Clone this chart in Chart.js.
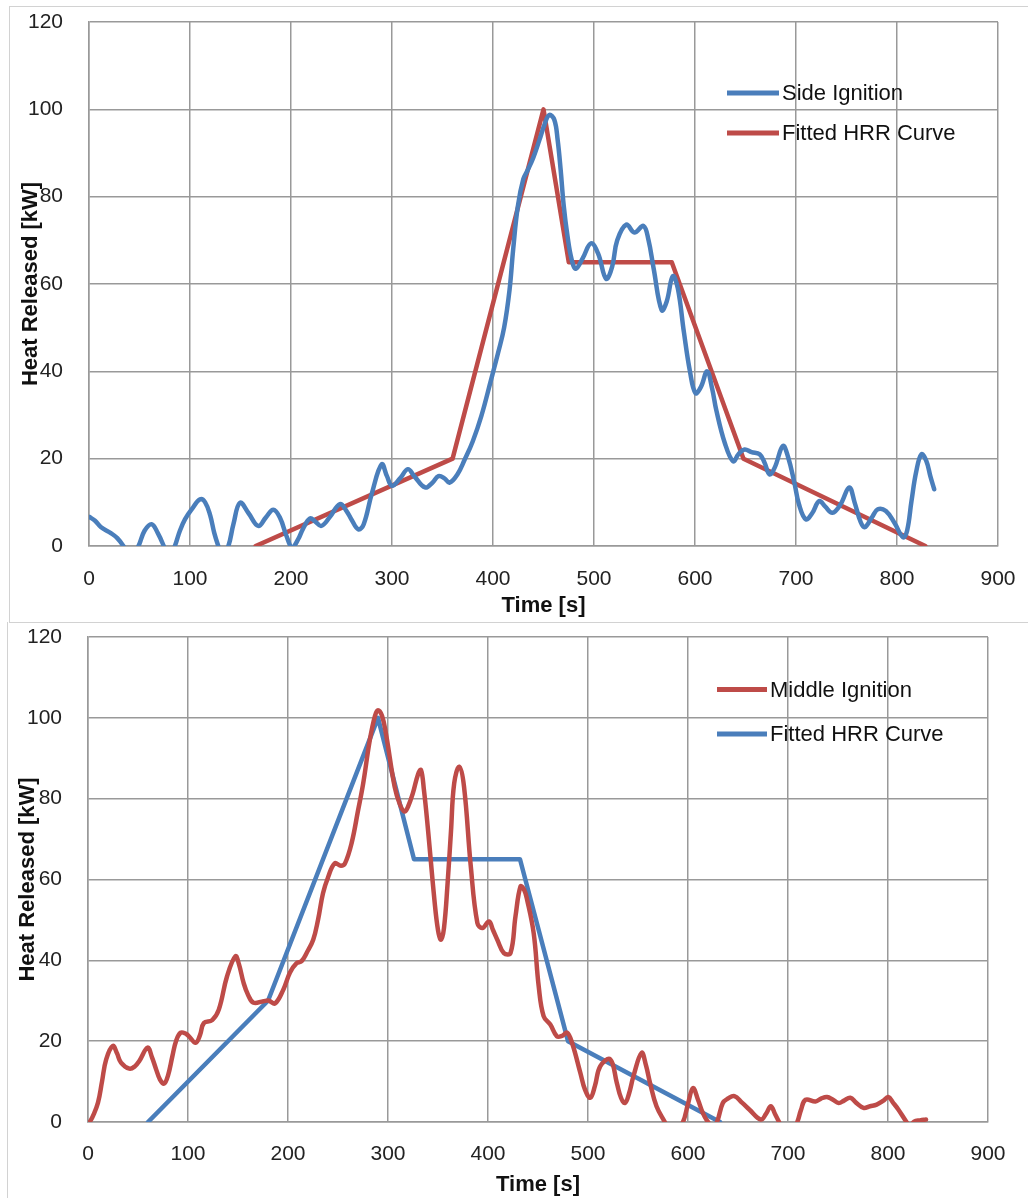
<!DOCTYPE html>
<html>
<head>
<meta charset="utf-8">
<script src="https://cdn.jsdelivr.net/npm/chart.js@4.4.1/dist/chart.umd.min.js"></script>
<style>
  body { margin: 0; background: #fff; width: 1028px; height: 1198px; position: relative; overflow: hidden; }
  canvas { position: absolute; left: 0; }
  .marco { position: absolute; border-color: #d2d2d2; border-style: solid; border-width: 0; }
</style>
</head>
<body>
<!-- marcos grises de las dos figuras -->
<div class="marco" style="left:9px; top:6px; width:1019px; height:615px; border-left-width:1px; border-top-width:1px; border-bottom-width:1px;"></div>
<div class="marco" style="left:7px; top:622px; width:1021px; height:576px; border-left-width:1px;"></div>

<canvas id="graficoLateral" width="1028" height="620" style="top:0px"></canvas>
<canvas id="graficoCentral" width="1028" height="576" style="top:622px"></canvas>

<script>
// Ejes comunes
const ticksTiempo = [0, 100, 200, 300, 400, 500, 600, 700, 800, 900];
const ticksCalor = [0, 20, 40, 60, 80, 100, 120];

// Ignicion lateral (curva medida), tiempo en s y calor en kW
const tiempoLateral = [0, 6, 12, 22, 28, 34, 41, 49, 55, 62, 68, 74, 79, 85, 90, 95, 102, 110, 115, 120,
  124, 128, 132, 138, 143, 149.5, 158, 167.6, 175, 182.5, 189, 196, 201, 207, 212, 218.8, 224, 230, 238, 248.5,
  255, 260, 266.7, 272, 280, 289.8, 295, 300, 308, 315.7, 322, 332.8, 340, 346, 352, 357, 365, 372, 380, 388.5,
  398, 405, 411, 416.4, 420, 424.6, 430, 434.4, 440, 446, 451, 455.7, 460.7, 464, 467, 470, 473.8, 478, 482, 489,
  497, 504, 512, 518, 523, 532, 540, 549, 554, 559, 567, 572, 578, 583, 589, 595, 600.5, 606, 612, 617,
  621, 629.5, 637.7, 643, 649, 656, 664, 669, 673.8, 679, 687, 692, 698.4, 703, 709.8, 716, 723, 729, 736, 744,
  752.7, 758, 764, 768, 775, 781, 789, 797.7, 806, 810, 814.3, 819, 824.2, 829, 833, 836.8];
const calorLateral = [6.7, 5.8, 4.3, 2.9, 1.8, 0, -3, 0, 3.5, 5.0, 3, 0, -3, 0, 3.5, 6.1, 8.5, 10.7, 10, 7,
  3, 0, -2.5, 0, 5, 9.9, 7.5, 4.6, 6.5, 8.3, 6.5, 2, -0.3, 1.5, 4, 6.3, 5.6, 4.6, 6.5, 9.6,
  8, 6, 3.8, 5, 12, 18.7, 16, 13.8, 15.5, 17.6, 16, 13.4, 14.5, 16, 15.5, 14.5, 16.5, 19.8, 24, 29.8,
  38, 44.2, 50, 58.7, 68, 77.8, 84, 86.1, 89, 93, 96.5, 98.7, 97.6, 93, 86.1, 78, 70.9, 65.5, 63.5, 66,
  69.3, 67, 61.2, 64, 70, 73.6, 71.8, 73.3, 70, 63.6, 54, 56, 61.8, 59, 49, 40, 35, 36.5, 40, 36,
  31.2, 23.6, 19.4, 21, 22.1, 21.5, 21, 19, 16.4, 18, 22.9, 20.5, 14.5, 9.5, 6.1, 7.5, 10.3, 9, 7.6, 9.5,
  13.4, 10, 5.5, 4.3, 6.5, 8.4, 8, 5.2, 2, 3.5, 10.2, 17, 21, 19.5, 16, 13];

// Curva HRR ajustada (ignicion lateral)
const tiempoAjusteLateral = [165, 360, 450, 475, 577, 648, 828];
const calorAjusteLateral = [0, 20, 100, 65, 65, 20, 0];

// Ignicion central (curva medida)
const tiempoCentral = [1.7, 5, 10, 14, 18.2, 24.8, 29, 33, 41.4, 47, 51.3, 59.6, 64, 67.9, 72, 76.2, 80, 84.4, 88, 92.7,
  98, 101, 107.6, 112, 115.9, 124.2, 130.8, 139, 147.4, 151, 155.6, 160, 165.6, 175.5, 181, 187, 195.4, 202, 208.6, 213.6,
  219, 225.2, 230, 235, 240, 246.7, 253, 257, 263.6, 270, 275.2, 281.8, 287, 290, 294, 298, 306.6, 312, 316.6, 320,
  324.8, 330, 333, 336, 339.7, 346.4, 350, 353, 356, 359.6, 363, 366.2, 371.2, 376, 382.8, 389.4, 394.4, 401, 405, 409.3,
  415.9, 422.5, 427.5, 432.5, 436, 439.1, 445.7, 450.7, 455.6, 462.3, 468.9, 474, 479, 484, 492.4, 497, 502.3, 507, 512.3, 522.2,
  528.8, 533, 537, 541, 545.4, 553.6, 558, 562, 568.5, 576.8, 585, 595, 600, 605, 610, 614.9, 620, 625, 629, 634.8,
  640, 646.4, 654, 661.3, 672.8, 678, 682.8, 687, 691, 700, 709.3, 713, 717.5, 727.5, 733, 739, 745, 750.7, 756, 762.3,
  768, 775.5, 782, 788.7, 795, 800.3, 805, 810.3, 818.5, 822, 826, 832, 838];
const calorCentral = [0, 1.5, 4.8, 10, 15.5, 18.8, 17, 14.7, 13.2, 13.8, 15.1, 18.4, 16, 13.2, 10.5, 9.5, 11.5, 16.3, 20, 22.1,
  21.8, 21.2, 19.6, 21.5, 24.5, 25.2, 27.8, 36, 41, 39, 34.4, 31.5, 29.5, 29.9, 30, 29.3, 32.8, 37, 39.3, 39.8,
  42, 45.1, 50, 56.6, 60.5, 64, 63.4, 64, 69, 77, 83.8, 94.5, 100.5, 101.9, 100.5, 96, 83, 78.5, 76.8, 78,
  81.3, 86, 87.1, 82, 73.1, 55, 47.5, 45.1, 48, 59.1, 72, 83.8, 87.9, 83, 63.2, 49.2, 48, 49.6, 47.5, 45.1,
  41.8, 41.8, 50.9, 58.3, 57.5, 55, 46.7, 33.6, 26.2, 24.1, 21.2, 21.3, 22.1, 19.6, 12.1, 8, 6, 9, 13.8, 15.5,
  9.7, 6, 4.7, 7, 11.3, 17.1, 14, 9.7, 3.9, 0, -4, 0, 4.5, 8.4, 5.5, 2.2, 0, -1, 0, 4.7,
  5.8, 6.4, 4.8, 3.1, 0.6, 2, 3.9, 2, 0, -5, 0, 3, 5.5, 5.1, 5.8, 6.2, 5.5, 4.7, 5.3, 6,
  4.8, 3.5, 3.9, 4.3, 5.2, 6.2, 4.8, 3.1, 0, -1, 0.1, 0.4, 0.6];

// Curva HRR ajustada (ignicion central)
const tiempoAjusteCentral = [60, 180, 290, 326, 432, 480, 632];
const calorAjusteCentral = [0, 30, 100, 65, 65, 20, 0];

const azul = '#4a7ebb';
const rojo = '#be4b48';
const fuente = "'Liberation Sans', Arial, sans-serif";

// junta dos arreglos en puntos {x, y}
function puntos(xs, ys) {
  return xs.map((x, i) => ({ x: x, y: ys[i] }));
}

// leyenda dibujada dentro del area del grafico (arriba a la derecha)
const leyendaInterna = {
  id: 'leyendaInterna',
  afterDraw(chart, args, opts) {
    const ctx = chart.ctx;
    ctx.save();
    chart.data.datasets.forEach((ds, i) => {
      const y = opts.y + i * opts.gap;
      ctx.strokeStyle = ds.borderColor;
      ctx.lineWidth = 5;
      ctx.beginPath();
      ctx.moveTo(opts.x, y);
      ctx.lineTo(opts.x + opts.largo, y);
      ctx.stroke();
      ctx.fillStyle = '#111';
      ctx.font = '22px ' + fuente;
      ctx.textBaseline = 'middle';
      ctx.fillText(ds.label, opts.x + opts.largo + 3, y + 1);
    });
    ctx.restore();
  }
};

function crearGrafico(id, series, cfg) {
  const ctx = document.getElementById(id).getContext('2d');
  return new Chart(ctx, {
    type: 'scatter',
    data: {
      datasets: series.map(s => ({
        label: s.label,
        data: s.data,
        showLine: true,
        borderColor: s.color,
        backgroundColor: s.color,
        borderWidth: 4.5,
        pointRadius: 0,
        tension: s.suave ? 0.4 : 0,
        borderCapStyle: 'round',
        borderJoinStyle: 'round'
      }))
    },
    options: {
      responsive: false,
      animation: false,
      layout: { padding: cfg.padding },
      plugins: {
        legend: { display: false },
        tooltip: { enabled: false },
        leyendaInterna: cfg.leyenda
      },
      scales: {
        x: {
          type: 'linear',
          min: 0, max: 900,
          afterBuildTicks: (eje) => { eje.ticks = ticksTiempo.map(v => ({ value: v })); },
          // alto fijo y sin margenes extra para que el area quede donde va
          afterFit: (eje) => { eje.height = cfg.altoX; eje.paddingLeft = 0; eje.paddingRight = 0; },
          grid: { color: '#999', lineWidth: 1.5, drawTicks: false },
          border: { color: '#999', width: 1.5 },
          ticks: { padding: cfg.padX, color: '#222', font: { size: 21, family: fuente } },
          title: { display: true, text: 'Time [s]', color: '#111', padding: { top: 0, bottom: cfg.tituloX },
            font: { size: 22, weight: 'bold', family: fuente } }
        },
        y: {
          min: 0, max: 120,
          afterBuildTicks: (eje) => { eje.ticks = ticksCalor.map(v => ({ value: v })); },
          afterFit: (eje) => { eje.width = cfg.anchoY; eje.paddingTop = 0; eje.paddingBottom = 0; },
          grid: { color: '#999', lineWidth: 1.5, drawTicks: false },
          border: { color: '#999', width: 1.5 },
          ticks: { padding: 26, color: '#222', font: { size: 21, family: fuente } },
          title: { display: true, text: 'Heat Released [kW]', color: '#111', padding: { top: cfg.tituloY, bottom: 0 },
            font: { size: 22, weight: 'bold', family: fuente } }
        }
      }
    },
    plugins: [leyendaInterna]
  });
}

// grafico de arriba: ignicion lateral
crearGrafico('graficoLateral', [
  { label: 'Side Ignition', data: puntos(tiempoLateral, calorLateral), color: azul, suave: true },
  { label: 'Fitted HRR Curve', data: puntos(tiempoAjusteLateral, calorAjusteLateral), color: rojo, suave: false }
], {
  padding: { left: 0, right: 30, top: 22, bottom: 0 },
  anchoY: 89, altoX: 74, padX: 21, tituloX: 1, tituloY: 18,
  leyenda: { x: 727, y: 93, gap: 40, largo: 52 }
});

// grafico de abajo: ignicion central
crearGrafico('graficoCentral', [
  { label: 'Middle Ignition', data: puntos(tiempoCentral, calorCentral), color: rojo, suave: true },
  { label: 'Fitted HRR Curve', data: puntos(tiempoAjusteCentral, calorAjusteCentral), color: azul, suave: false }
], {
  padding: { left: 0, right: 40, top: 15, bottom: 0 },
  anchoY: 88, altoX: 76, padX: 20, tituloX: 0, tituloY: 15,
  leyenda: { x: 717, y: 67.5, gap: 44.5, largo: 50 }
});
</script>
</body>
</html>
